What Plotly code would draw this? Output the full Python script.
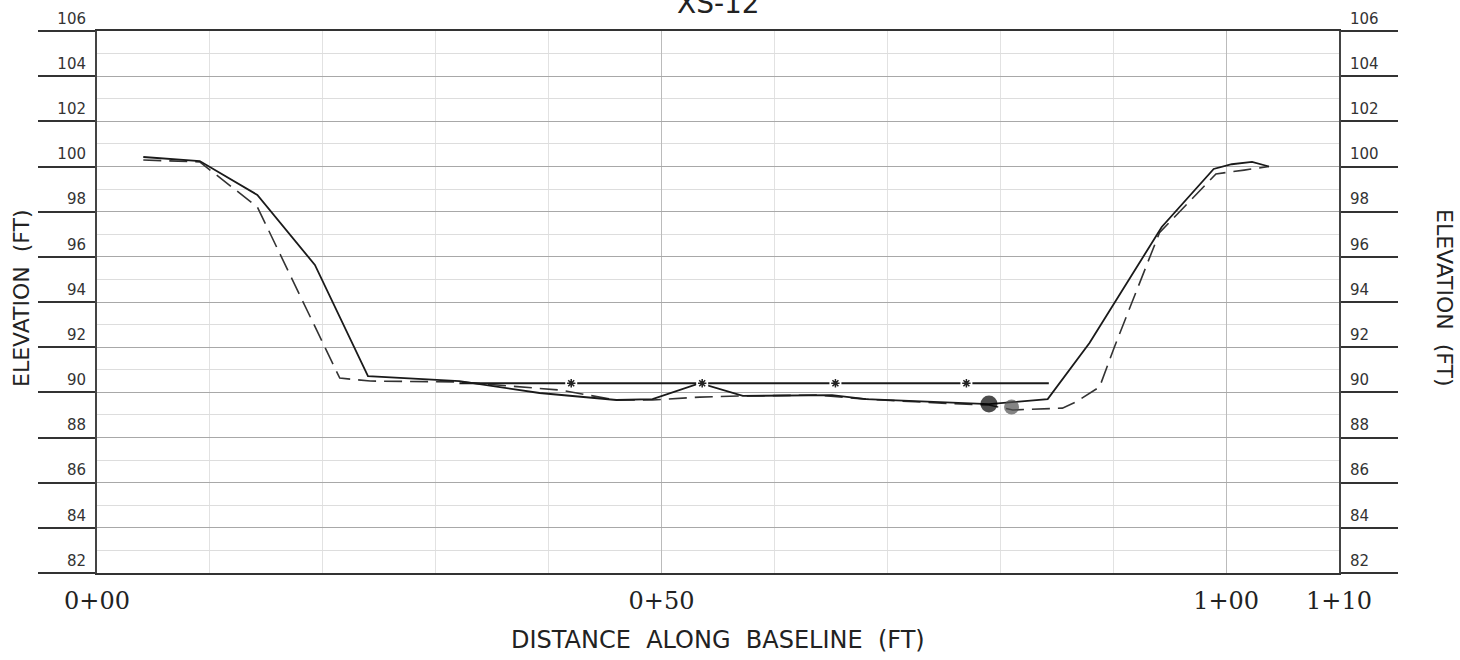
import plotly.graph_objects as go

# ---------------- data ----------------
# Existing ground (solid line)
exist_x = [4.1, 9.1, 14.2, 19.3, 24.0, 32.1, 39.2, 46.0, 49.2, 53.4, 57.2, 63.7, 65.1, 68.1, 75.5, 79.0, 84.2, 87.9, 94.3, 98.9, 100.5, 102.3, 103.8]
exist_y = [100.42, 100.24, 98.74, 95.64, 90.72, 90.50, 89.97, 89.66, 89.70, 90.41, 89.84, 89.88, 89.88, 89.70, 89.53, 89.48, 89.70, 92.18, 97.32, 99.89, 100.10, 100.20, 100.00]

# Proposed section (dashed line)
prop_x = [4.1, 9.1, 14.2, 21.5, 24.2, 32.1, 41.0, 46.0, 49.2, 53.4, 57.2, 63.7, 68.1, 75.5, 79.0, 81.1, 85.5, 86.7, 88.8, 90.1, 94.1, 99.1, 101.6, 103.8]
prop_y = [100.29, 100.20, 98.21, 90.63, 90.50, 90.46, 90.10, 89.66, 89.66, 89.79, 89.84, 89.88, 89.70, 89.50, 89.44, 89.22, 89.30, 89.57, 90.24, 92.00, 97.07, 99.67, 99.84, 100.00]

# Water surface with markers
ws_x = [32.1, 84.3]
ws_y = [90.4, 90.4]
ws_mark_x = [42.0, 53.6, 65.4, 77.0]
ws_mark_y = [90.4, 90.4, 90.4, 90.4]

# Thalweg points (existing, proposed)
pt_x = [79.0, 81.0]
pt_y = [89.48, 89.35]
pt_colors = ["#000000", "#505050"]
pt_sizes = [17, 15]

# Axis labels
x_tickvals = [0, 50, 100, 110]
x_ticktext = ["0+00", "0+50", "1+00", "1+10"]
y_tickvals = list(range(82, 107, 2))

fig = go.Figure()

fig.add_trace(go.Scatter(x=prop_x, y=prop_y, mode="lines",
                         line=dict(color="#333333", width=1.6, dash="18px,8px"),
                         hoverinfo="skip", showlegend=False))
fig.add_trace(go.Scatter(x=exist_x, y=exist_y, mode="lines",
                         line=dict(color="#1a1a1a", width=1.8),
                         hoverinfo="skip", showlegend=False))
fig.add_trace(go.Scatter(x=ws_x, y=ws_y, mode="lines",
                         line=dict(color="#1a1a1a", width=2),
                         hoverinfo="skip", showlegend=False))
fig.add_trace(go.Scatter(x=ws_mark_x, y=ws_mark_y, mode="markers",
                         marker=dict(symbol="square", size=12, color="white", line=dict(width=0)),
                         hoverinfo="skip", showlegend=False))
fig.add_trace(go.Scatter(x=ws_mark_x, y=ws_mark_y, mode="markers",
                         marker=dict(symbol="asterisk-open", size=7, color="#222222",
                                     line=dict(width=1.5, color="#222222")),
                         hoverinfo="skip", showlegend=False))
fig.add_trace(go.Scatter(x=pt_x, y=pt_y, mode="markers",
                         marker=dict(symbol="circle", size=pt_sizes, color=pt_colors, line=dict(width=0)),
                         hoverinfo="skip", showlegend=False))
# invisible trace to activate right axis
fig.add_trace(go.Scatter(x=[0], y=[82], yaxis="y2", mode="markers",
                         marker=dict(opacity=0), hoverinfo="skip", showlegend=False))

yaxis_common = dict(
    range=[82, 106], tickmode="array", tickvals=y_tickvals,
    ticks="outside", ticklen=57, tickwidth=2, tickcolor="#333333",
    showline=True, linecolor="#444444", linewidth=2,
    ticklabelposition="outside top", ticklabelstandoff=6, ticklabelshift=-1,
    tickfont=dict(family="DejaVu Sans", size=15, color="#333333"),
    zeroline=False, fixedrange=True, automargin=False,
)

fig.update_layout(
    width=1460, height=660,
    margin=dict(l=97, r=121, t=31, b=87, autoexpand=False),
    paper_bgcolor="white", plot_bgcolor="white",
    xaxis=dict(
        range=[0, 110], tickmode="array", tickvals=x_tickvals, ticktext=x_ticktext,
        ticks="", showgrid=True, gridcolor="#bbbbbb", gridwidth=1,
        minor=dict(tickmode="linear", tick0=0, dtick=10, showgrid=True, gridcolor="#e2e2e2", gridwidth=1),
        showline=True, linecolor="#333333", linewidth=2, mirror=True,
        tickfont=dict(family="DejaVu Serif", size=24, color="#222222"),
        ticklabelstandoff=5, zeroline=False, fixedrange=True, automargin=False,
    ),
    yaxis=dict(**yaxis_common, side="left", showgrid=True, gridcolor="#a8a8a8", gridwidth=1,
               minor=dict(tickmode="linear", tick0=82, dtick=1, showgrid=True, gridcolor="#dddddd", gridwidth=1)),
    yaxis2=dict(**yaxis_common, side="right", overlaying="y", anchor="x", showgrid=False),
    annotations=[
        dict(text="ELEVATION&nbsp;&nbsp;(FT)", xref="paper", yref="paper", x=0, y=0.5,
             xanchor="center", yanchor="middle",
             xshift=-76, yshift=4, textangle=-90, showarrow=False,
             font=dict(family="DejaVu Sans", size=22, color="#222222")),
        dict(text="ELEVATION&nbsp;&nbsp;(FT)", xref="paper", yref="paper", x=1, y=0.5,
             xanchor="center", yanchor="middle",
             xshift=106, yshift=4, textangle=90, showarrow=False,
             font=dict(family="DejaVu Sans", size=22, color="#222222")),
        dict(text="DISTANCE&nbsp;&nbsp;ALONG&nbsp;&nbsp;BASELINE&nbsp;&nbsp;(FT)", xref="paper", yref="paper",
             x=0.5, y=0, xanchor="center", yanchor="middle", yshift=-67, showarrow=False,
             font=dict(family="DejaVu Sans", size=24, color="#222222")),
        dict(text="XS-12", xref="paper", yref="paper", x=0.5, y=1, yshift=28, showarrow=False,
             xanchor="center", yanchor="middle", font=dict(family="DejaVu Sans", size=28, color="#222222")),
    ],
)

fig.write_html("out.html", config={"displayModeBar": False},
               post_script="document.body.style.margin='0';")
